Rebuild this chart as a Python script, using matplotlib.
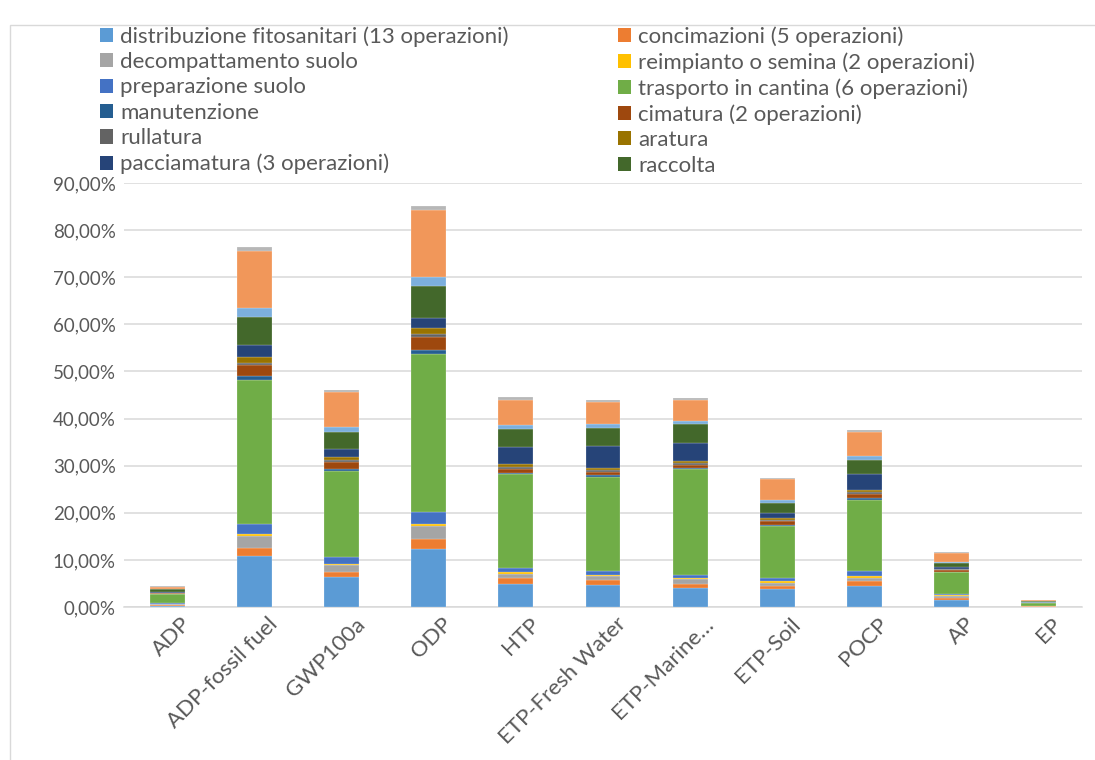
import matplotlib
matplotlib.use("Agg")
import matplotlib.pyplot as plt
import matplotlib.transforms as mtransforms
from matplotlib.patches import Patch, Rectangle
from matplotlib.ticker import FuncFormatter, MultipleLocator
import numpy as np

plt.rcParams['font.family'] = ['Lato', 'DejaVu Sans']

categorie = ["ADP", "ADP-fossil fuel", "GWP100a", "ODP", "HTP", "ETP-Fresh Water",
             "ETP-Marine…", "ETP-Soil", "POCP", "AP", "EP"]

# contributi percentuali per operazione (stesso ordine delle categorie)
distribuzione = [0.30, 10.75, 6.37, 12.24, 4.95, 4.60, 4.03, 3.75, 4.53, 1.49, 0.06]
concimazioni = [0.20, 1.84, 1.06, 2.13, 1.13, 1.13, 0.92, 0.63, 0.92, 0.50, 0.05]
decompattamento = [0.15, 2.40, 1.42, 2.76, 0.99, 0.85, 0.92, 0.78, 0.77, 0.42, 0.04]
reimpianto = [0.03, 0.43, 0.28, 0.49, 0.29, 0.21, 0.21, 0.29, 0.29, 0.14, 0.01]
preparazione = [0.12, 2.26, 1.49, 2.55, 0.99, 0.85, 0.71, 0.77, 1.06, 0.22, 0.04]
trasporto = [1.90, 30.60, 18.25, 33.47, 19.80, 19.94, 22.42, 10.89, 15.20, 4.61, 0.75]
manutenzione = [0.08, 0.78, 0.43, 0.86, 0.35, 0.36, 0.35, 0.22, 0.29, 0.14, 0.03]
cimatura = [0.12, 2.26, 1.50, 2.80, 0.78, 0.70, 0.57, 0.92, 0.99, 0.28, 0.05]
rullatura = [0.05, 0.57, 0.40, 0.70, 0.49, 0.43, 0.42, 0.28, 0.35, 0.21, 0.03]
aratura = [0.05, 1.13, 0.60, 1.20, 0.50, 0.49, 0.50, 0.35, 0.42, 0.15, 0.03]
pacciamatura = [0.28, 2.62, 1.80, 2.16, 3.68, 4.60, 3.75, 1.06, 3.33, 0.28, 0.05]
raccolta = [0.50, 6.01, 3.55, 6.79, 3.82, 3.82, 4.10, 2.13, 3.04, 0.85, 0.12]
serie13 = [0.14, 1.77, 1.15, 1.98, 0.84, 0.85, 0.63, 0.70, 0.78, 0.28, 0.03]
serie14 = [0.42, 12.09, 7.35, 14.16, 5.38, 4.66, 4.39, 4.32, 5.16, 1.92, 0.22]
serie15 = [0.12, 0.85, 0.42, 0.78, 0.49, 0.36, 0.35, 0.28, 0.35, 0.21, 0.05]

nomi = ["distribuzione fitosanitari (13 operazioni)", "concimazioni (5 operazioni)",
        "decompattamento suolo", "reimpianto o semina (2 operazioni)",
        "preparazione suolo", "trasporto in cantina (6 operazioni)",
        "manutenzione", "cimatura (2 operazioni)", "rullatura", "aratura",
        "pacciamatura (3 operazioni)", "raccolta", None, None, None]
serie = [distribuzione, concimazioni, decompattamento, reimpianto, preparazione,
         trasporto, manutenzione, cimatura, rullatura, aratura, pacciamatura,
         raccolta, serie13, serie14, serie15]
colori = ["#5B9BD5", "#ED7D31", "#A5A5A5", "#FFC000", "#4472C4", "#70AD47",
          "#255E91", "#9E480E", "#636363", "#997300", "#264478", "#43682B",
          "#7CAFDD", "#F1975A", "#B7B7B7"]

grigio = "#595959"

fig = plt.figure(figsize=(10.95, 7.6), dpi=100)
W, H = 1095, 760

# bordo dell'area del grafico
fig.patches.append(Rectangle((10 / W, -0.05), 1.2, (H - 25) / H + 0.05,
                             transform=fig.transFigure, fill=False,
                             edgecolor="#D9D9D9", linewidth=1.0))

ax = fig.add_axes([124 / W, (H - 607) / H, 958 / W, 424 / H])

x = np.arange(len(categorie))
base = np.zeros(len(categorie))
handles = []
for valori, colore, nome in zip(serie, colori, nomi):
    ax.bar(x, valori, 0.4, bottom=base, color=colore, edgecolor=(1, 1, 1, 0.5),
           linewidth=0.3, zorder=3)
    base += np.array(valori)
    if nome:
        handles.append((Patch(facecolor=colore), nome))

ax.set_xlim(-0.5, len(categorie) - 0.5)
ax.set_ylim(0, 90)
ax.yaxis.set_major_locator(MultipleLocator(10))
ax.yaxis.set_major_formatter(FuncFormatter(lambda v, p: f"{v:.2f}%".replace(".", ",")))
ax.grid(axis="y", color="#D9D9D9", linewidth=1.1, zorder=0)
for s in ["top", "right", "left"]:
    ax.spines[s].set_visible(False)
ax.spines["bottom"].set_color("#D9D9D9")
ax.spines["bottom"].set_linewidth(1.1)
ax.tick_params(length=0, labelcolor=grigio)
ax.tick_params(axis="y", pad=6, labelsize=13.5)
ax.tick_params(axis="x", pad=5, labelsize=16)
ax.set_xticks(x)
ax.set_xticklabels(categorie, rotation=45, ha="right", rotation_mode="anchor")
# sposta le etichette inclinate un po' a destra
sposta = mtransforms.ScaledTranslation(13 / 100, 0, fig.dpi_scale_trans)
for lab in ax.get_xticklabels():
    lab.set_transform(lab.get_transform() + sposta)

# legenda su due colonne, riempita per righe
sinistra = handles[0::2]
destra = handles[1::2]
opts = dict(loc="upper left", frameon=False, fontsize=16, handlelength=0.6,
            handleheight=0.6, handletextpad=0.32, labelspacing=0.245,
            borderpad=0, borderaxespad=0, labelcolor=grigio)
leg1 = fig.legend([h for h, _ in sinistra], [n for _, n in sinistra],
                  bbox_to_anchor=(100 / W, 1 - 26 / H), **opts)
leg2 = fig.legend([h for h, _ in destra], [n for _, n in destra],
                  bbox_to_anchor=(618 / W, 1 - 26 / H), **opts)

fig.savefig("out.png", dpi=100)
